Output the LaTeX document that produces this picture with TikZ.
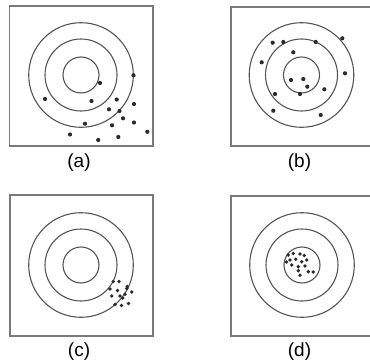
\documentclass[tikz,border=0pt]{standalone}
\usepackage{fontspec}
\setmainfont{Liberation Sans}
\definecolor{framec}{HTML}{7A7A7A}
\definecolor{ringc}{HTML}{555555}
\definecolor{dotc}{HTML}{2A2A2A}
\tikzset{
  frame/.style={draw=framec, line width=1.4pt},
  ring/.style={draw=ringc, line width=1.1pt},
  hit/.style={fill=dotc},
  lbl/.style={font=\fontsize{19}{19}\selectfont, inner sep=0pt},
}
\begin{document}
\begin{tikzpicture}[x=1pt,y=-1pt]
\useasboundingbox (0,0) rectangle (370,364);
% panel frames
\draw[frame] (9.5,6) rectangle (153,146);
\draw[frame] (231,7) rectangle (372,146);
\draw[frame] (10,195) rectangle (153,336);
\draw[frame] (231,196) rectangle (372,336);
% rings
\foreach \cx/\cy in {81/75, 301.5/75, 81/265, 302/265}{
  \draw[ring] (\cx,\cy) circle (18);
  \draw[ring] (\cx,\cy) circle (36);
  \draw[ring] (\cx,\cy) circle (52.3);
}
% (a) hits
\foreach \x/\y in {100/83, 133.5/75.3, 45/99, 91.5/101, 116.7/99.5, 134/104, 109/109.3, 119.5/111, 123/118.3, 134/122.5, 112/125.3, 85/123.7, 70/134.5, 118.3/137, 98.2/140, 147.3/131.8}{
  \fill[hit] (\x,\y) circle (2.1);
}
% (b) hits
\foreach \x/\y in {272.7/42.7, 283.3/42, 315.7/42, 342.3/38.3, 293.3/52.3, 261.7/62.3, 345/73.3, 291/80, 303.3/79, 307.3/86.7, 324.3/89.3, 275/94, 300/94, 273.3/110.7, 320.7/115}{
  \fill[hit] (\x,\y) circle (2.1);
}
% (c) hits
\foreach \x/\y in {113.3/281.5, 119/281.5, 127.3/286.5, 110/289, 117.5/290.5, 126.7/288.5, 131.7/292, 111.7/296, 120/296, 125/294.3, 122.7/298, 115/304.5, 121.5/305.5, 128.5/303.5}{
  \fill[hit] (\x,\y) circle (1.9);
}
% (d) hits
\foreach \x/\y in {288.3/255, 293.3/253.5, 300/254, 304.3/255.5, 290/260, 295.7/259.3, 301.7/261.7, 306.7/260, 291.7/265, 298.3/266.7, 305/266, 298.3/270.7, 308.3/271.7, 300/275.3, 313.3/272, 286.5/262}{
  \fill[hit] (\x,\y) circle (1.9);
}
% labels
\node[lbl] (la) at (79,162.5) {(a)};
\node[lbl] (lb) at (299.5,162.5) {(b)};
\node[lbl] (lc) at (79,352) {(c)};
\node[lbl] (ld) at (299.5,352) {(d)};
\end{tikzpicture}
\end{document}
